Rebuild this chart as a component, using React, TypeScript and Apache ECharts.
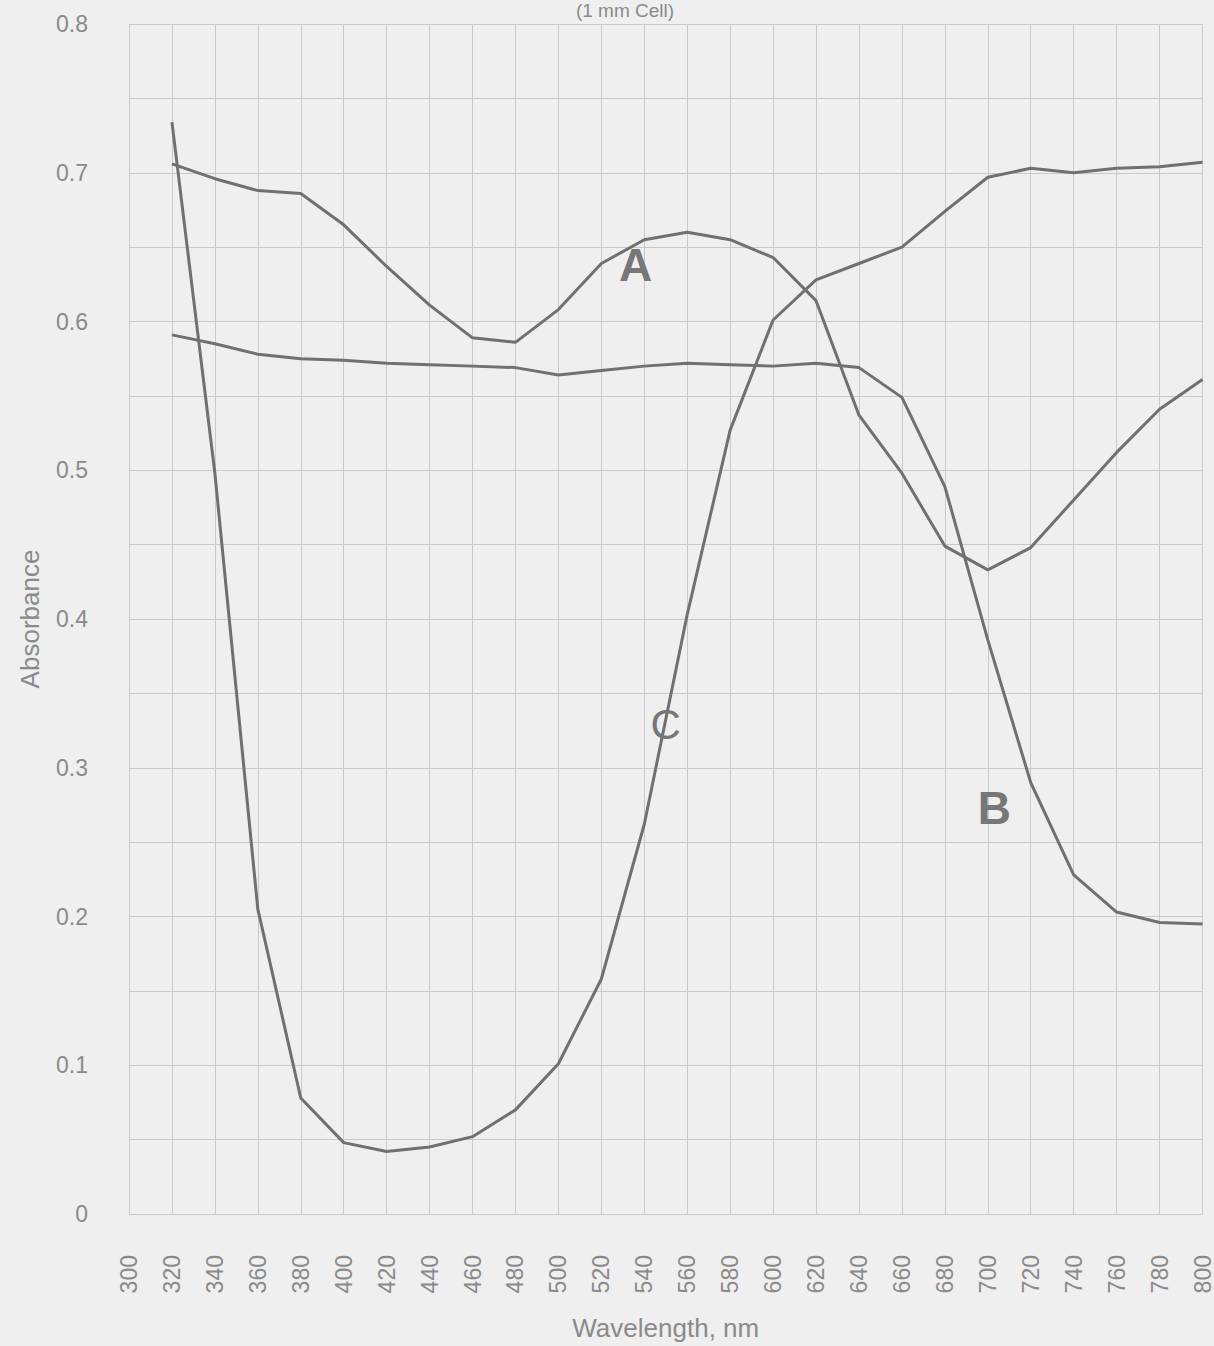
import React, { useEffect, useRef } from "react";
import * as echarts from "echarts";

const wavelengths = [320, 340, 360, 380, 400, 420, 440, 460, 480, 500, 520, 540, 560, 580, 600, 620, 640, 660, 680, 700, 720, 740, 760, 780, 800];
const seriesA = [0.706, 0.696, 0.688, 0.686, 0.665, 0.637, 0.611, 0.589, 0.586, 0.608, 0.639, 0.655, 0.660, 0.655, 0.643, 0.614, 0.537, 0.498, 0.449, 0.433, 0.448, 0.480, 0.512, 0.541, 0.561];
const seriesB = [0.591, 0.585, 0.578, 0.575, 0.574, 0.572, 0.571, 0.570, 0.569, 0.564, 0.567, 0.570, 0.572, 0.571, 0.570, 0.572, 0.569, 0.549, 0.489, 0.386, 0.290, 0.228, 0.203, 0.196, 0.195];
const seriesC = [0.734, 0.498, 0.205, 0.078, 0.048, 0.042, 0.045, 0.052, 0.070, 0.101, 0.158, 0.262, 0.403, 0.527, 0.601, 0.628, 0.639, 0.650, 0.674, 0.697, 0.703, 0.700, 0.703, 0.704, 0.707];
const curveNames = ["A", "B", "C"];
const labelCoords: [number, number][] = [[536, 0.638], [703, 0.273], [550, 0.329]];

const LINE = "#707070";
const GRID = "#c9c9c9";
const TEXT = "#8a8a8a";
const FONT = "Liberation Sans, Arial, sans-serif";

export default function App() {
  const ref = useRef<HTMLDivElement>(null);
  useEffect(() => {
    if (!ref.current) return;
    const chart = echarts.init(ref.current, undefined, { renderer: "svg" });
    const all = [seriesA, seriesB, seriesC];
    const series = all.map((vals, i) => ({
      type: "line",
      name: curveNames[i],
      data: wavelengths.map((w, j) => [w, vals[j]]),
      symbol: "none",
      lineStyle: { color: LINE, width: 3 },
      markPoint: {
        symbol: "circle",
        symbolSize: 0,
        data: [{ coord: labelCoords[i], value: curveNames[i] }],
        label: {
          show: true,
          formatter: curveNames[i],
          fontSize: i === 2 ? 42 : 46,
          fontWeight: i === 2 ? "normal" : "bold",
          color: "#777",
          fontFamily: FONT,
          position: "inside",
        },
      },
    }));
    chart.setOption({
      animation: false,
      backgroundColor: "#efefef",
      textStyle: { fontFamily: FONT },
      graphic: [
        {
          type: "text",
          x: 625,
          y: 1,
          style: {
            text: "(1 mm Cell)",
            fontSize: 19,
            fill: TEXT,
            textAlign: "center",
            textVerticalAlign: "top",
            fontFamily: FONT,
          },
        },
      ],
      grid: { left: 129, right: 10, top: 24, bottom: 131, containLabel: false },
      xAxis: {
        type: "value",
        min: 300,
        max: 800,
        interval: 20,
        name: "Wavelength, nm",
        nameLocation: "middle",
        nameGap: 101,
        nameTextStyle: { fontSize: 26, color: TEXT },
        axisLine: { show: false },
        axisTick: { show: false },
        splitLine: { show: true, lineStyle: { color: GRID, width: 1 } },
        axisLabel: { rotate: 90, margin: 41, fontSize: 23, color: TEXT },
      },
      yAxis: {
        type: "value",
        min: 0,
        max: 0.8,
        interval: 0.05,
        name: "Absorbance",
        nameLocation: "middle",
        nameGap: 86,
        nameTextStyle: { fontSize: 26, color: TEXT },
        axisLine: { show: false },
        axisTick: { show: false },
        splitLine: { show: true, lineStyle: { color: GRID, width: 1 } },
        axisLabel: {
          margin: 41,
          fontSize: 23,
          color: TEXT,
          formatter: (v: number) => {
            const t = v * 10;
            return Math.abs(t - Math.round(t)) < 1e-6 ? String(Math.round(t) / 10) : "";
          },
        },
      },
      series,
    });
    return () => chart.dispose();
  }, []);
  return <div ref={ref} style={{ position: "fixed", left: 0, top: 0, width: 1214, height: 1346 }} />;
}
